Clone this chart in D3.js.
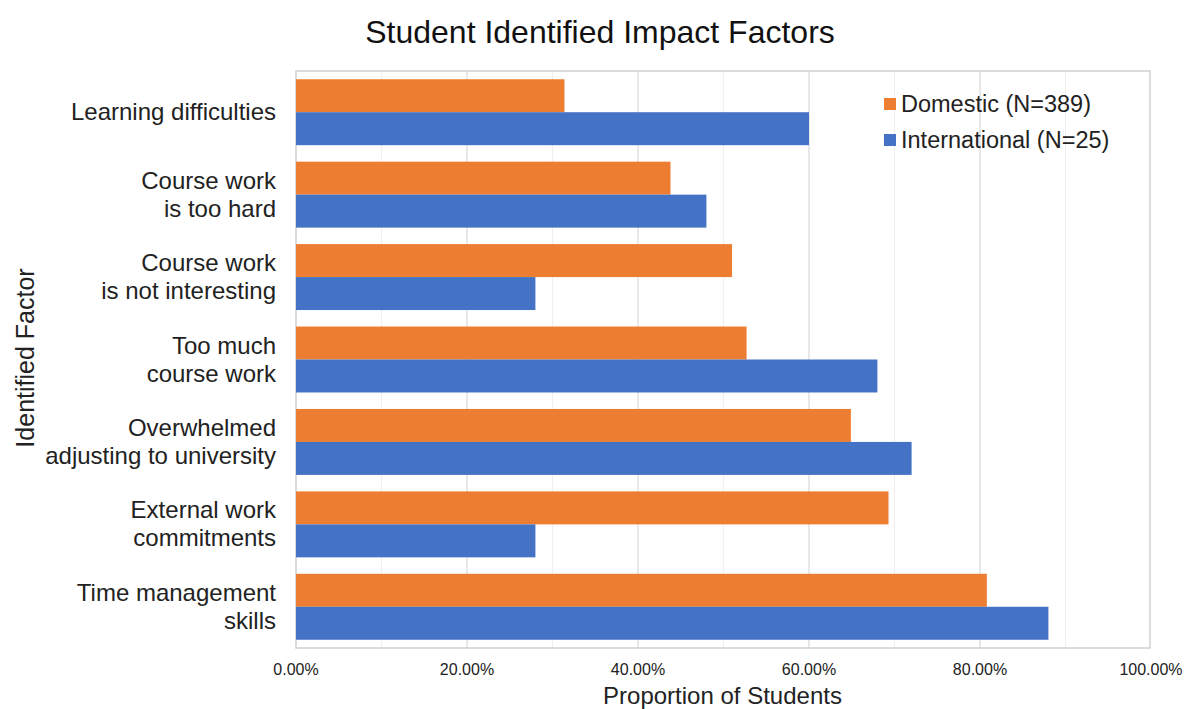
<!DOCTYPE html>
<html>
<head>
<meta charset="utf-8">
<script src="https://cdn.jsdelivr.net/npm/d3@7"></script>
<style>
  body { margin: 0; background: #fff; }
  text { font-family: "Liberation Sans", Arial, Helvetica, sans-serif; fill: #222; }
</style>
</head>
<body>
<script>
// Student Identified Impact Factors -- grouped horizontal bars

var categories = [
    "Learning difficulties",
    "Course work\nis too hard",
    "Course work\nis not interesting",
    "Too much\ncourse work",
    "Overwhelmed\nadjusting to university",
    "External work\ncommitments",
    "Time management\nskills"
];
var domestic      = [0.314, 0.438, 0.510, 0.527, 0.649, 0.693, 0.808];
var international = [0.60, 0.48, 0.28, 0.68, 0.72, 0.28, 0.88];
var seriesNames   = ["Domestic (N=389)", "International (N=25)"];
var seriesColors  = ["#ED7D31", "#4472C4"];
var xTicks        = [0, 0.2, 0.4, 0.6, 0.8, 1.0];

var svgW = 1188, svgH = 709;
var plotL = 296, plotR = 1151, plotT = 71, plotB = 648;

var svg = d3.select("body").append("svg")
    .attr("width", svgW)
    .attr("height", svgH);

var xScale = d3.scaleLinear().domain([0, 1]).range([plotL, plotR]);
var yScale = d3.scaleBand().domain(categories).range([plotT, plotB])
    .paddingInner(0.2).paddingOuter(0.1);
var subScale = d3.scaleBand().domain([0, 1]).range([0, yScale.bandwidth()]);

// gridlines, minor then major
svg.append("g").selectAll("line")
    .data(d3.range(1, 10).map(function(i) { return i / 10; }))
    .enter().append("line")
    .attr("x1", function(d) { return xScale(d); })
    .attr("x2", function(d) { return xScale(d); })
    .attr("y1", plotT).attr("y2", plotB)
    .attr("stroke", function(d, i) { return i % 2 == 1 ? "#d9d9d9" : "#efefef"; })
    .attr("stroke-width", 1.2);

// frame
svg.append("rect")
    .attr("x", plotL).attr("y", plotT)
    .attr("width", plotR - plotL - 1).attr("height", plotB - plotT)
    .attr("fill", "none")
    .attr("stroke", "#d0d0d0")
    .attr("stroke-width", 1.5);

// bars
var rows = categories.map(function(c, i) {
    return { cat: c, vals: [domestic[i], international[i]] };
});

var groups = svg.append("g").selectAll("g")
    .data(rows)
    .enter().append("g")
    .attr("transform", function(d) { return "translate(0," + yScale(d.cat) + ")"; });

groups.selectAll("rect")
    .data(function(d) { return d.vals; })
    .enter().append("rect")
    .attr("x", xScale(0))
    .attr("y", function(d, i) { return subScale(i); })
    .attr("width", function(d) { return xScale(d) - xScale(0); })
    .attr("height", subScale.bandwidth())
    .attr("fill", function(d, i) { return seriesColors[i]; });

// category labels
var catLabels = svg.append("g").selectAll("text")
    .data(categories)
    .enter().append("text")
    .attr("text-anchor", "end")
    .attr("font-size", 24)
    .attr("y", function(d) { return yScale(d) + yScale.bandwidth() / 2; });

catLabels.each(function(d) {
    var lines = d.split("\n");
    var t = d3.select(this);
    lines.forEach(function(line, k) {
        t.append("tspan")
            .attr("x", 276)
            .attr("dy", k == 0 ? ((-(lines.length - 1) * 28) / 2 + 8) + "px" : "28px")
            .text(line);
    });
});

// x tick labels
svg.append("g").selectAll("text")
    .data(xTicks)
    .enter().append("text")
    .attr("x", function(d) { return xScale(d); })
    .attr("y", 675)
    .attr("text-anchor", "middle")
    .attr("font-size", 16)
    .text(d3.format(".2%"));

// titles
svg.append("text")
    .attr("x", 600).attr("y", 43)
    .attr("text-anchor", "middle")
    .attr("font-size", 32)
    .style("fill", "#111")
    .text("Student Identified Impact Factors");

svg.append("text")
    .attr("x", (plotL + plotR) / 2 - 1).attr("y", 704)
    .attr("text-anchor", "middle")
    .attr("font-size", 24)
    .text("Proportion of Students");

svg.append("text")
    .attr("transform", "translate(34,358) rotate(-90)")
    .attr("text-anchor", "middle")
    .attr("font-size", 25)
    .text("Identified Factor");

// legend
var legend = svg.append("g").selectAll("g")
    .data(seriesNames)
    .enter().append("g")
    .attr("transform", function(d, i) { return "translate(884," + (104 + i * 36) + ")"; });

legend.append("rect")
    .attr("x", 0).attr("y", -6)
    .attr("width", 12).attr("height", 12)
    .attr("fill", function(d, i) { return seriesColors[i]; });

legend.append("text")
    .attr("x", 17).attr("y", 8)
    .attr("font-size", 23.5)
    .text(function(d) { return d; });
</script>
</body>
</html>
